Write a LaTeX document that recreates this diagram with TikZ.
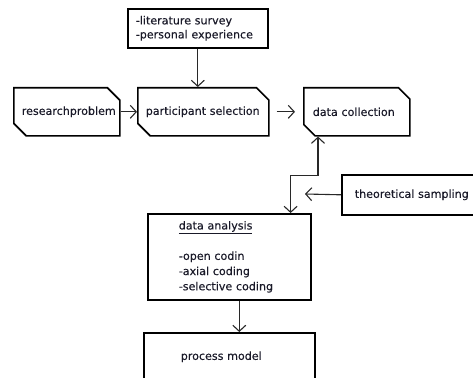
\documentclass[tikz,border=0pt]{standalone}
\usepackage{fontspec}
\setmainfont{DejaVu Sans}[FakeBold=0.25]
\usepackage{tikz}
\usetikzlibrary{arrows.meta,shapes.misc}
\definecolor{darkline}{RGB}{40,40,40}
\definecolor{inktext}{RGB}{25,25,40}

\begin{document}
\begin{tikzpicture}[
  x=1pt, y=-1pt,
  box/.style={draw=black, line width=1.6pt, anchor=north west, align=left, inner ysep=0pt,
    text=inktext, font=\fontsize{11.1}{14}\selectfont},
  cutbox/.style={box, chamfered rectangle, chamfered rectangle corners={north east,south west},
    chamfered rectangle xsep=8pt, chamfered rectangle ysep=7pt},
  arr/.style={-{Straight Barb[length=6pt,width=13pt]}, line width=1.1pt, draw=darkline},
  biarr/.style={{Straight Barb[length=6pt,width=13pt]}-{Straight Barb[length=6pt,width=13pt]}, line width=1.1pt, draw=darkline}
]
\useasboundingbox (0,0) rectangle (473,377);
\clip (0,0) rectangle (473,377);
\node[box, minimum width=140pt, minimum height=39pt, text width=124pt, inner xsep=8pt] (lit) at (127,8)
  {-literature survey\\-personal experience};
\node[cutbox, minimum width=106pt, minimum height=48pt, text width=90pt, inner xsep=0pt] (rp) at (13,87) {researchproblem};
\node[cutbox, minimum width=131pt, minimum height=48pt, text width=115pt, inner xsep=0pt] (ps) at (137,87) {participant selection};
\node[cutbox, minimum width=106pt, minimum height=48pt, text width=88pt, inner xsep=0pt] (dc) at (303,87) {data collection};
\node[box, minimum width=145pt, minimum height=40pt, text width=119pt, inner xsep=13pt] (ts) at (341,174) {theoretical sampling};
\node[box, minimum width=163pt, minimum height=86pt, text width=101pt, inner xsep=31pt,
  font=\fontsize{11.1}{15.2}\selectfont] (da) at (147,213)
  {\underline{data analysis}\\[15.2pt]-open codin\\-axial coding\\-selective coding};
\node[box, minimum width=171pt, minimum height=48pt, text width=97pt, inner xsep=37pt] (pm) at (143,332) {process model};
\coordinate (tsend) at (305,194);

\draw[arr] (lit.south) -- (lit.south |- ps.north);
\draw[arr] (rp.east) -- (ps.west);
\draw[arr, shorten <=7pt, shorten >=8pt] (ps.east) -- (dc.west);
\draw[biarr] ([xshift=15pt]dc.west |- dc.south) -- ++(0,39) -| ([xshift=-21pt]da.north east);
\draw[arr] (ts.west) -- (tsend);
\draw[arr] ([xshift=10pt]da.south) -- ([xshift=10pt]da.south |- pm.north);
\end{tikzpicture}
\end{document}
